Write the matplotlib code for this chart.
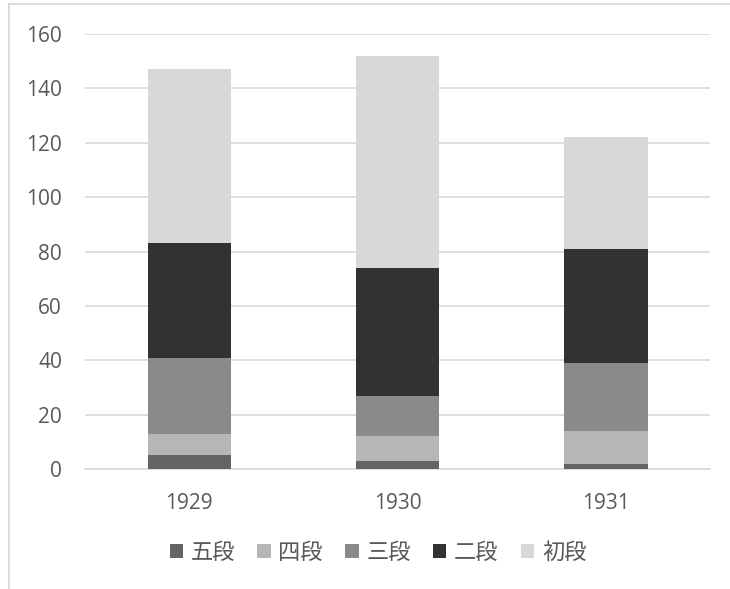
import matplotlib
matplotlib.use("Agg")
import matplotlib.pyplot as plt
from matplotlib.lines import Line2D
import numpy as np

plt.rcParams['font.family'] = ['Open Sans', 'Noto Sans CJK JP', 'DejaVu Sans']

years = ["1929", "1930", "1931"]
series_names = ["五段", "四段", "三段", "二段", "初段"]
godan = [5, 3, 2]
yondan = [8, 9, 12]
sandan = [28, 15, 25]
nidan = [42, 47, 42]
shodan = [64, 78, 41]
colors = ["#646464", "#b5b6b8", "#898a8c", "#333132", "#d7d8da"]

fig = plt.figure(figsize=(7.30, 5.89), dpi=100)
ax = fig.add_axes([85/730, 1 - 469/589, 625/730, 435/589])

x = np.arange(len(years))
bottom = np.zeros(len(years))
for name, vals, c in zip(series_names, [godan, yondan, sandan, nidan, shodan], colors):
    ax.bar(x, vals, width=0.4, bottom=bottom, color=c, label=name, zorder=3)
    bottom += np.array(vals)

ax.set_xlim(-0.5, 2.5)
ax.set_ylim(0, 160)
ax.set_yticks(range(0, 161, 20))
ax.set_xticks(x)
ax.set_xticklabels(years)
ax.grid(axis='y', color='#d9d9d9', linewidth=1.2, zorder=0)
for s in ['left', 'right', 'top']:
    ax.spines[s].set_visible(False)
ax.spines['bottom'].set_color('#d9d9d9')
ax.spines['bottom'].set_linewidth(1.2)
ax.tick_params(axis='both', length=0, colors='#595959', labelsize=15)
ax.tick_params(axis='y', pad=16.5)
ax.tick_params(axis='x', pad=17)

leg = fig.legend(loc='center', bbox_to_anchor=(378/730, 1 - 552/589), ncol=5,
                 frameon=False, handlelength=0.6, handleheight=0.6,
                 handletextpad=0.35, columnspacing=1.0,
                 prop={'family': ['Noto Sans CJK JP', 'DejaVu Sans'], 'size': 16})
for t in leg.get_texts():
    t.set_color('#595959')

fig.add_artist(Line2D([9/730, 1], [1 - 4/589, 1 - 4/589], transform=fig.transFigure,
                      color='#d9d9d9', linewidth=1.3))
fig.add_artist(Line2D([9/730, 9/730], [0, 1 - 4/589], transform=fig.transFigure,
                      color='#d9d9d9', linewidth=1.3))

fig.savefig("out.png", dpi=100)
